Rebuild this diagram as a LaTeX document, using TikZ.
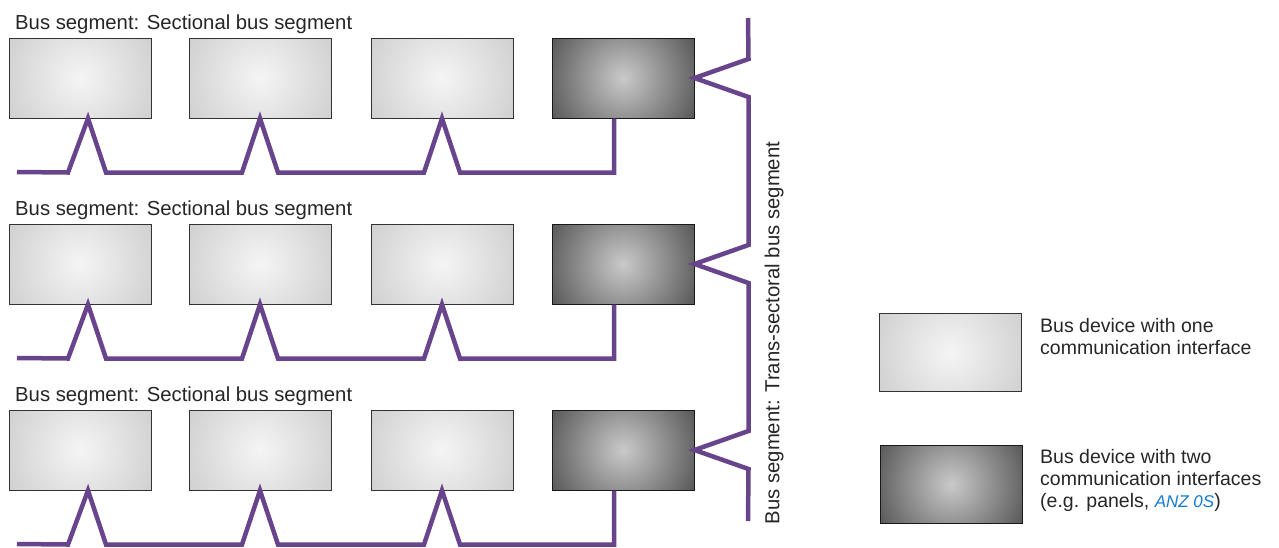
\documentclass[tikz,border=0pt]{standalone}
\usepackage{fontspec}
\setmainfont{Liberation Sans}
\usepackage{xcolor}
\usetikzlibrary{calc, positioning}
\definecolor{buspurple}{RGB}{104,68,140}
\definecolor{anzblue}{RGB}{22,122,208}
\pgfdeclareradialshading{onedevshade}{\pgfpoint{0bp}{0bp}}{color(0bp)=(black!4); color(24bp)=(black!18); color(43bp)=(black!27); color(50bp)=(black!31)}
\pgfdeclareradialshading{twodevshade}{\pgfpoint{0bp}{0bp}}{color(0bp)=(black!21); color(24bp)=(black!64); color(43bp)=(black!80); color(50bp)=(black!89)}
\tikzset{
    onedev/.style={draw=black!80, line width=1pt, rectangle, minimum width=142pt, minimum height=80pt,
        path picture={\shade[shading=onedevshade] (path picture bounding box.center) circle (82pt);}},
    twodev/.style={draw=black!90, line width=1pt, rectangle, minimum width=142pt, minimum height=80pt,
        path picture={\shade[shading=twodevshade] (path picture bounding box.center) circle (82pt);}},
    bus/.style={draw=buspurple, line width=4.5pt},
    seglabel/.style={inner sep=0pt, anchor=base west, font=\fontsize{20.3}{24}\selectfont, text=black!85},
    keytext/.style={inner sep=0pt, anchor=north west, align=left, font=\fontsize{19.5}{22}\selectfont, text=black!85}
}

\begin{document}
\begin{tikzpicture}[x=1pt, y=-1pt]
                        \useasboundingbox (0, 0) rectangle (1279, 547);
                        \begin{scope}[shift={(0, 0)}]
                            \node[seglabel] (seg1) at (15, 29) {Bus segment: Sectional bus segment};
                            \node[onedev] (dev1a) at (80, 78) {};
                            \node[onedev] (dev1b) at (260, 78) {};
                            \node[onedev] (dev1c) at (442, 78) {};
                            \node[twodev] (dev1d) at (623, 78) {};
                            \coordinate (bus1) at (17, 172);
                            \draw[bus]
                            (bus1) -- ($(dev1a.south)+(-12, 54)$) -- ([xshift=8pt]dev1a.south) -- ++(18, 54)
                            -- ($(dev1b.south)+(-18, 54)$) -- (dev1b.south) -- ++(18, 54)
                            -- ($(dev1c.south)+(-18, 54)$) -- (dev1c.south) -- ++(18, 54)
                            -| ([xshift=-9pt]dev1d.south);
                        \end{scope}
                        \begin{scope}[shift={(0, 186)}]
                            \node[seglabel] (seg2) at (15, 29) {Bus segment: Sectional bus segment};
                            \node[onedev] (dev2a) at (80, 78) {};
                            \node[onedev] (dev2b) at (260, 78) {};
                            \node[onedev] (dev2c) at (442, 78) {};
                            \node[twodev] (dev2d) at (623, 78) {};
                            \coordinate (bus2) at (17, 172);
                            \draw[bus]
                            (bus2) -- ($(dev2a.south)+(-12, 54)$) -- ([xshift=8pt]dev2a.south) -- ++(18, 54)
                            -- ($(dev2b.south)+(-18, 54)$) -- (dev2b.south) -- ++(18, 54)
                            -- ($(dev2c.south)+(-18, 54)$) -- (dev2c.south) -- ++(18, 54)
                            -| ([xshift=-9pt]dev2d.south);
                        \end{scope}
                        \begin{scope}[shift={(0, 372)}]
                            \node[seglabel] (seg3) at (15, 29) {Bus segment: Sectional bus segment};
                            \node[onedev] (dev3a) at (80, 78) {};
                            \node[onedev] (dev3b) at (260, 78) {};
                            \node[onedev] (dev3c) at (442, 78) {};
                            \node[twodev] (dev3d) at (623, 78) {};
                            \coordinate (bus3) at (17, 172);
                            \draw[bus]
                            (bus3) -- ($(dev3a.south)+(-12, 54)$) -- ([xshift=8pt]dev3a.south) -- ++(18, 54)
                            -- ($(dev3b.south)+(-18, 54)$) -- (dev3b.south) -- ++(18, 54)
                            -- ($(dev3c.south)+(-18, 54)$) -- (dev3c.south) -- ++(18, 54)
                            -| ([xshift=-9pt]dev3d.south);
                        \end{scope}
                        \coordinate (trtop) at (748, 18);
                        \coordinate (trbot) at (748, 521);
                        \draw[bus]
                        (trtop) -- ($(dev1d.east)+(54, -19)$) -- (dev1d.east) -- ++(54, 19)
                        -- ($(dev2d.east)+(54, -19)$) -- (dev2d.east) -- ++(54, 19)
                        -- ($(dev3d.east)+(54, -19)$) -- (dev3d.east) -- ++(54, 19)
                        -- (trbot);
                        \node[rotate=90, inner sep=0pt, font=\fontsize{20.3}{24}\selectfont, text=black!85] (trlabel) at (774, 333) {Bus segment: Trans-sectoral bus segment};
                        \node[onedev, minimum height=78pt] (keyone) at (950, 352) {};
                        \node[twodev, minimum height=78pt] (keytwo) at (951, 484) {};
                        \node[keytext] (keyonetext) at (1040, 318) {Bus device with one\\communication interface};
                        \node[keytext] (keytwotext) at (1040, 449) {Bus device with two\\communication interfaces\\(e.g. panels, {\color{anzblue}\itshape\fontsize{17}{22}\selectfont ANZ 0S})};
                    \end{tikzpicture}
\end{document}
